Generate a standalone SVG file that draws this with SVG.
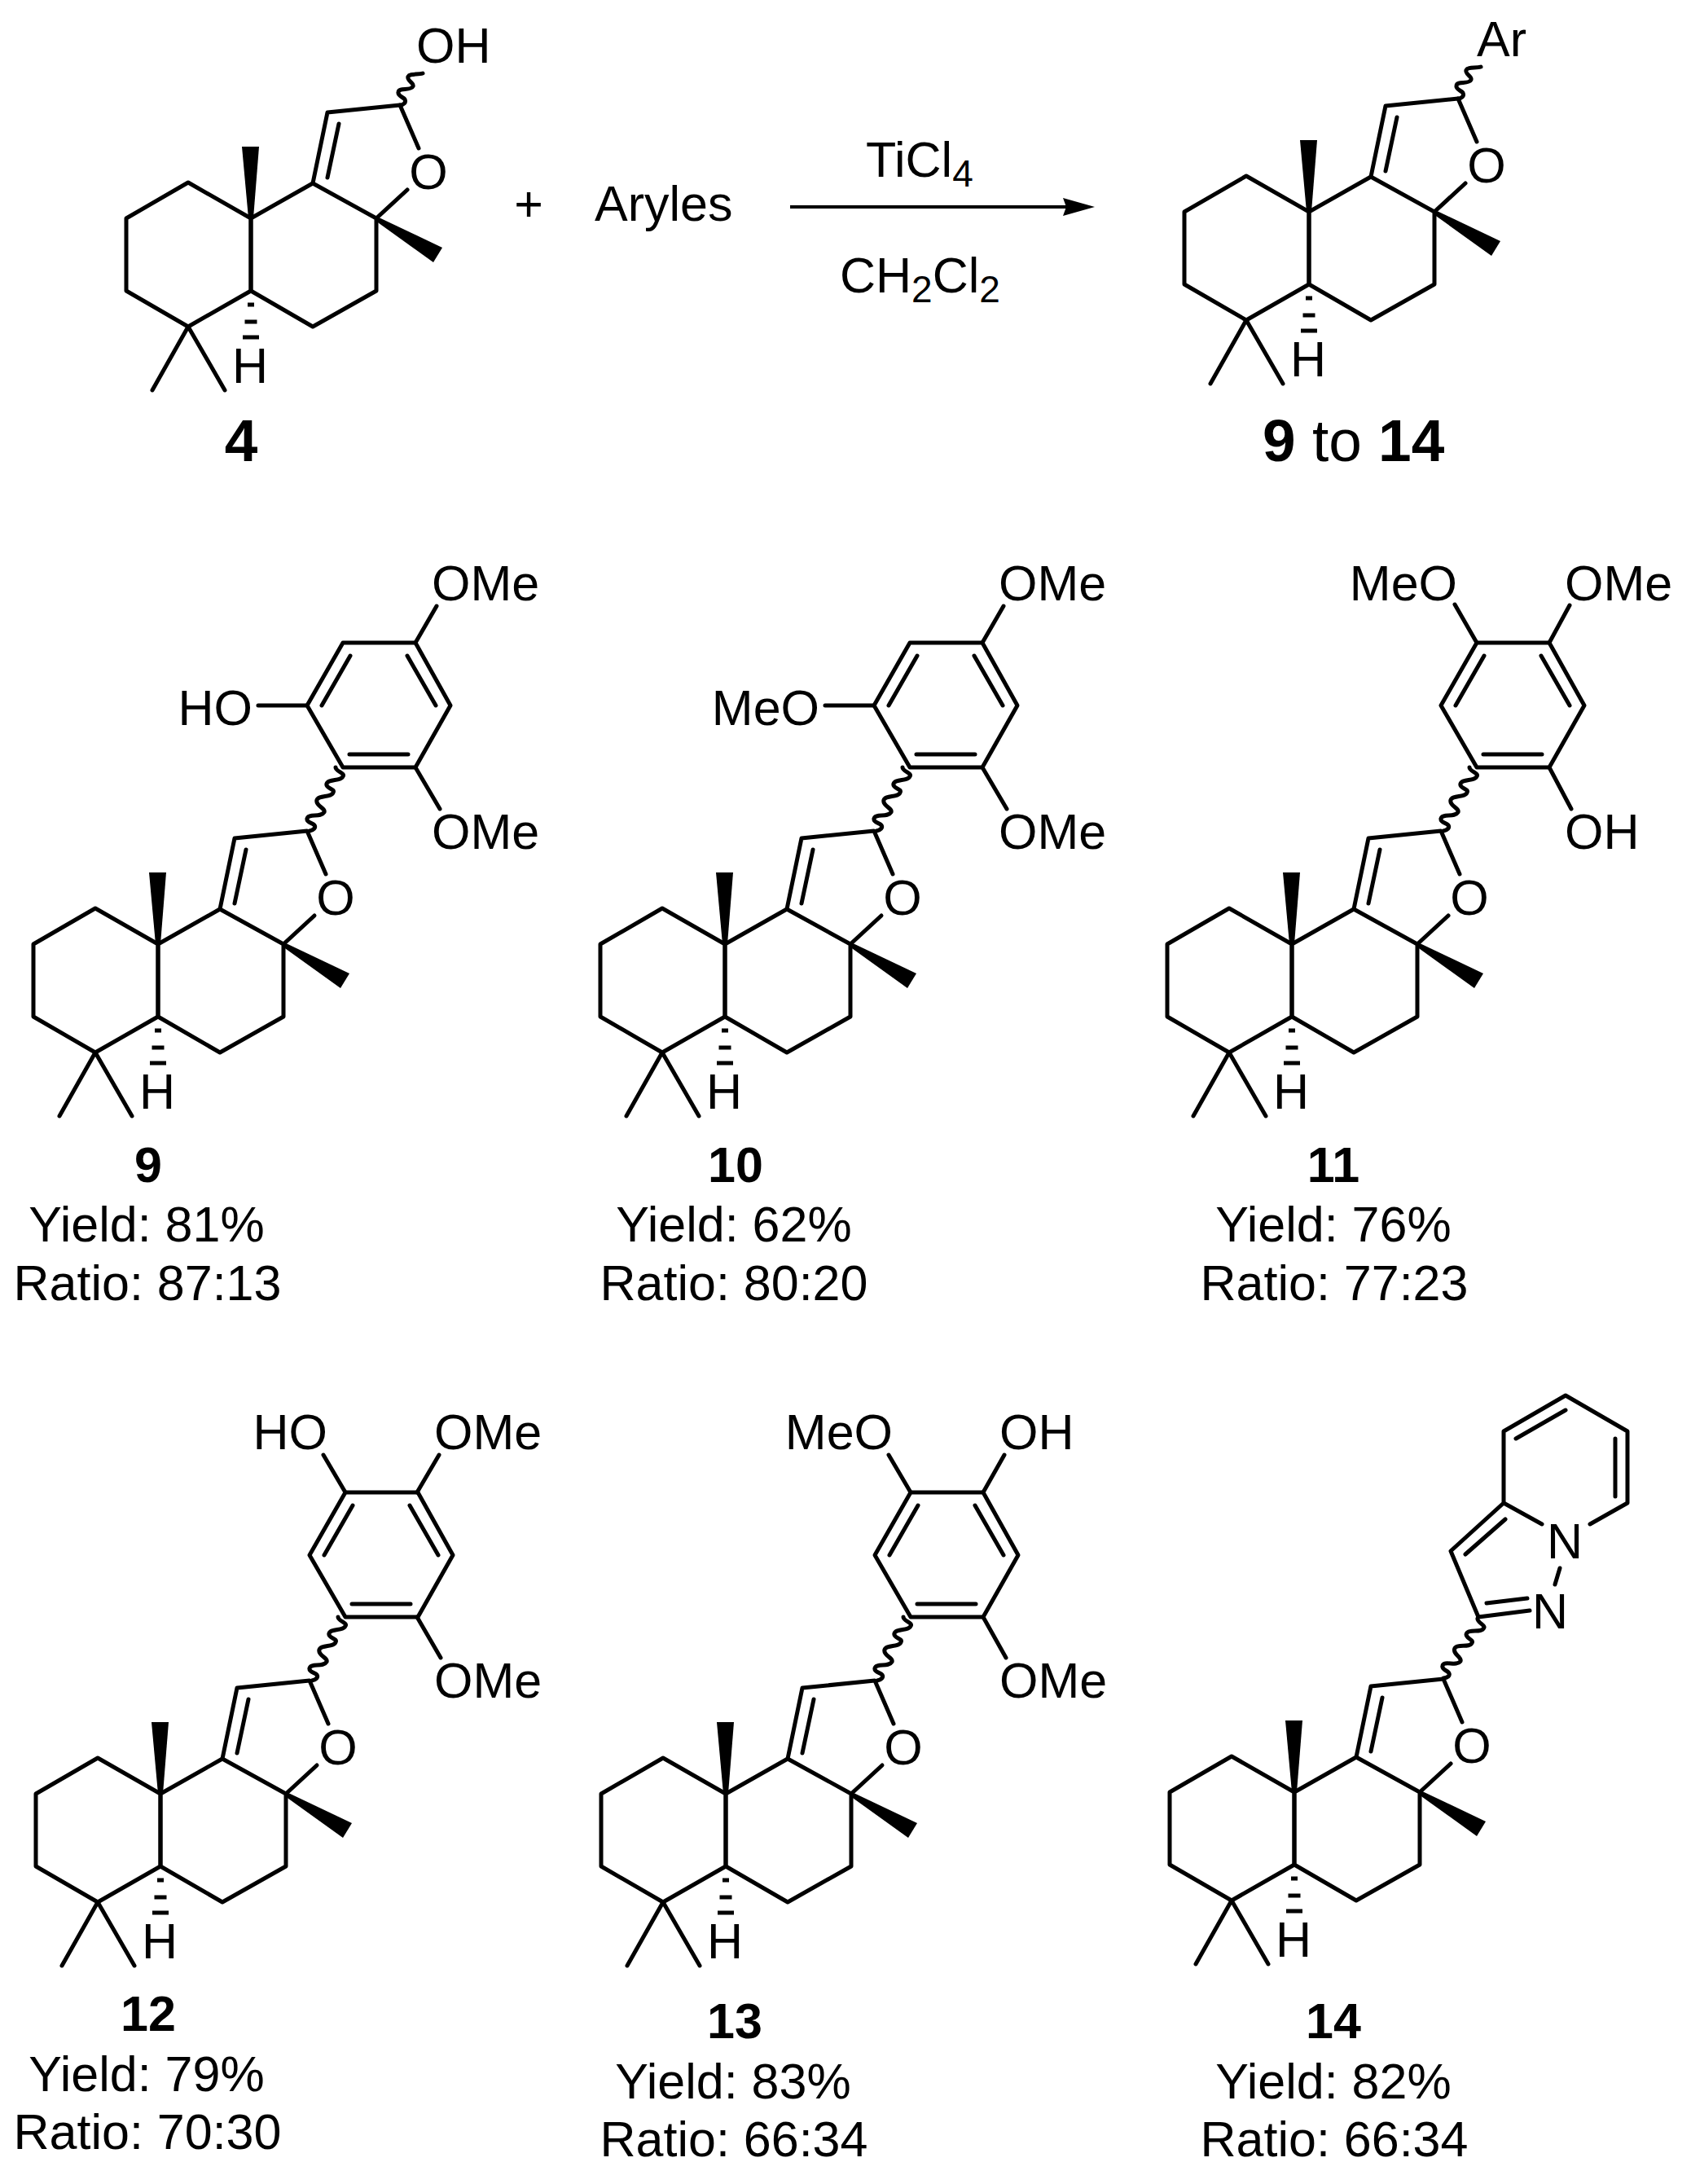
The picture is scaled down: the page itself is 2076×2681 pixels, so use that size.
<svg xmlns="http://www.w3.org/2000/svg" xmlns:xlink="http://www.w3.org/1999/xlink" width="2076" height="2681" viewBox="0 0 2076 2681">
<style>
.b{fill:none;stroke:#000;stroke-width:5;stroke-linecap:round;stroke-linejoin:round}
.h{fill:none;stroke:#000;stroke-width:5;stroke-linecap:butt}
.w{fill:#000;stroke:none}
text{font-family:"Liberation Sans",Arial,sans-serif;font-size:61px;fill:#000}
.n{font-weight:bold}
.big{font-size:73px}
.m{text-anchor:middle}
.e{text-anchor:end}
.sub{font-size:46px}
</style>
<defs>
<g id="core">
<path class="b" d="M308,268L231,224L155,268L155,357L231,401L308,357Z"/>
<path class="b" d="M308,268V357L384,401L462,357V268L384,225Z"/>
<path class="b" d="M384,225L402,138L491,129L514,182"/>
<path class="b" d="M462,268L500,233"/>
<path class="b" d="M416,152L402,218"/>
<path class="b" d="M231,401L187,479M231,401L276,479"/>
<polygon class="w" points="305,268 311,268 318,180 297,180"/>
<polygon class="w" points="461,265 461,271 532,322 543,304"/>
<path class="h" d="M304,374H312M300.500,395H315.500M298,414H318"/>
</g>
<path id="wave-short" class="b" d="M0,0c4,0 8,-3 6,-7c-2,-3 -9,-4 -8,-9c1,-6 15,-1 18,-7c2,-4 -8,-7 -6,-12c2,-4 12,-2 18,-4"/>
<path id="wave-long" class="b" d="M0,0c5,-1 8,-4 6,-7c-2,-3 -10,-3 -9,-8c1,-7 17,-1 21,-8c2,-5 -11,-8 -9,-15c2,-6 18,-3 20,-9c3,-5 -10,-5 -8,-11c2,-6 18,-3 20,-9c3,-4 -9,-6 -9,-11"/>
<g id="aryl">
<path class="b" d="M535,-102H624L667,-25L624,51H535L491,-25Z"/>
<path class="b" d="M544,-86L509,-25M614,-86L649,-25M543,35H615"/>
<use href="#wave-long" transform="translate(494,129)"/>
</g>
</defs>

<g id="reaction-arrow">
<path d="M970,254H1312" fill="none" stroke="#000" stroke-width="4"/>
<polygon class="w" points="1344,254 1305,243 1309,254 1305,265"/>
</g>
<text x="649" y="271" class="m">+</text>
<text x="730" y="271">Aryles</text>
<text x="1063" y="217">TiCl<tspan class="sub" dy="12">4</tspan></text>
<text x="1031" y="359">CH<tspan class="sub" dy="12">2</tspan><tspan dy="-12">Cl</tspan><tspan class="sub" dy="12">2</tspan></text>

<g id="mol-4">
<use href="#core"/>
<use href="#wave-short" transform="translate(491,129)"/>
<text x="526" y="232" class="m">O</text>
<text x="307" y="470" class="m">H</text>
<text x="511" y="77">OH</text>
<text x="296" y="566" class="n big m">4</text>
</g>

<g id="mol-product" transform="translate(1299,-8)">
<use href="#core"/>
<use href="#wave-short" transform="translate(491,129)"/>
<text x="526" y="232" class="m">O</text>
<text x="307" y="470" class="m">H</text>
</g>
<text x="1813" y="69">Ar</text>
<text x="1550" y="566" class="big"><tspan class="n">9</tspan> to <tspan class="n">14</tspan></text>

<g id="mol-9">
<g transform="translate(-114,891)">
<use href="#core"/><use href="#aryl"/>
<path class="b" d="M624,-102L650,-147M624,51L654,102M491,-25H431"/>
<text x="526" y="232" class="m">O</text>
<text x="307" y="470" class="m">H</text>
</g>
<text x="530" y="737">OMe</text>
<text x="530" y="1042">OMe</text>
<text x="310" y="890" class="e">HO</text>
<text x="182" y="1451" class="n m">9</text>
<text x="180" y="1524" class="m">Yield: 81%</text>
<text x="181" y="1596" class="m">Ratio: 87:13</text>
</g>

<g id="mol-10">
<g transform="translate(582,891)">
<use href="#core"/><use href="#aryl"/>
<path class="b" d="M624,-102L650,-147M624,51L654,102M491,-25H431"/>
<text x="526" y="232" class="m">O</text>
<text x="307" y="470" class="m">H</text>
</g>
<text x="1226" y="737">OMe</text>
<text x="1226" y="1042">OMe</text>
<text x="1006" y="890" class="e">MeO</text>
<text x="903" y="1451" class="n m">10</text>
<text x="901" y="1524" class="m">Yield: 62%</text>
<text x="901" y="1596" class="m">Ratio: 80:20</text>
</g>

<g id="mol-11">
<g transform="translate(1278,891)">
<use href="#core"/><use href="#aryl"/>
<path class="b" d="M535,-102L508,-149M624,-102L649,-148M624,51L651,102"/>
<text x="526" y="232" class="m">O</text>
<text x="307" y="470" class="m">H</text>
</g>
<text x="1789" y="737" class="e">MeO</text>
<text x="1921" y="737">OMe</text>
<text x="1921" y="1042">OH</text>
<text x="1637" y="1451" class="n m">11</text>
<text x="1637" y="1524" class="m">Yield: 76%</text>
<text x="1638" y="1596" class="m">Ratio: 77:23</text>
</g>

<g id="mol-12">
<g transform="translate(-111,1934)">
<use href="#core"/><use href="#aryl"/>
<path class="b" d="M535,-102L508,-148M623,-102L650,-148M623,51L652,101"/>
<text x="526" y="232" class="m">O</text>
<text x="307" y="470" class="m">H</text>
</g>
<text x="402" y="1779" class="e">HO</text>
<text x="533" y="1779">OMe</text>
<text x="533" y="2084">OMe</text>
<text x="182" y="2493" class="n m">12</text>
<text x="180" y="2567" class="m">Yield: 79%</text>
<text x="181" y="2638" class="m">Ratio: 70:30</text>
</g>

<g id="mol-13">
<g transform="translate(583,1934)">
<use href="#core"/><use href="#aryl"/>
<path class="b" d="M535,-102L508,-148M624,-102L650,-148M624,51L652,101"/>
<text x="526" y="232" class="m">O</text>
<text x="307" y="470" class="m">H</text>
</g>
<text x="1096" y="1779" class="e">MeO</text>
<text x="1227" y="1779">OH</text>
<text x="1227" y="2084">OMe</text>
<text x="902" y="2502" class="n m">13</text>
<text x="900" y="2576" class="m">Yield: 83%</text>
<text x="901" y="2647" class="m">Ratio: 66:34</text>
</g>

<g id="mol-14">
<g transform="translate(1281,1932)">
<use href="#core"/>
<text x="526" y="232" class="m">O</text>
<text x="307" y="470" class="m">H</text>
</g>
<use href="#wave-long" transform="translate(1772,2060) rotate(7.500)"/>
<path class="b" d="M1815,1985L1781,1904L1846,1845L1893,1871M1846,1845V1757L1922,1713L1998,1757V1845L1952,1871"/>
<path class="b" d="M1799,1908L1848,1865M1861,1766L1922,1731M1983,1766V1837"/>
<path class="b" d="M1815,1985L1878,1977M1825,1968L1875,1962M1915,1925L1909,1945"/>
<text x="1921" y="1913" class="m">N</text>
<text x="1903" y="1999" class="m">N</text>
<text x="1637" y="2502" class="n m">14</text>
<text x="1637" y="2576" class="m">Yield: 82%</text>
<text x="1638" y="2647" class="m">Ratio: 66:34</text>
</g>
</svg>
